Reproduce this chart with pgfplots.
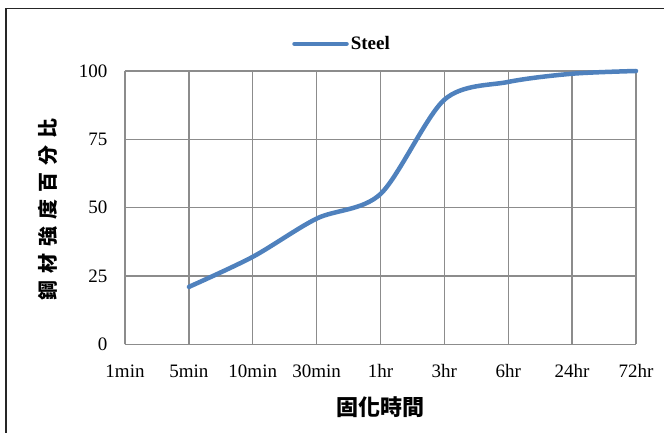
\documentclass[border=0pt]{standalone}
\usepackage{pgfplots}
\pgfplotsset{compat=1.18}
\usepackage{fontspec}
\setmainfont{Liberation Serif}
\newfontfamily\cjk{Noto Sans CJK TC}
\definecolor{steelblue}{HTML}{4F81BD}
\definecolor{gridgray}{HTML}{8C8C8C}
\begin{document}
\begin{tikzpicture}[x=1pt,y=1pt]
\path[use as bounding box] (0,0) rectangle (664,433);
\draw[line width=1.6pt, black!85] (6,0) -- (6,424.5) -- (664,424.5);
\begin{axis}[
  at={(125pt,88.7pt)}, anchor=south west,
  scale only axis, width=511pt, height=273.3pt,
  xmin=0, xmax=8, ymin=0, ymax=100,
  xtick={0,1,2,3,4,5,6,7,8},
  xticklabels={1min,5min,10min,30min,1hr,3hr,6hr,24hr,72hr},
  ytick={0,25,50,75,100},
  /pgf/number format/assume math mode=true,
  tick label style={font=\fontsize{19}{22}\selectfont},
  xticklabel style={anchor=base, yshift=-33pt},
  yticklabel style={anchor=east, xshift=-14pt},
  major tick length=0pt,
  grid=major,
  major grid style={gridgray, line width=1.3pt},
  axis line style={gridgray, line width=1.3pt},
  axis x line*=bottom, axis y line*=left,
  xlabel={\cjk\bfseries\fontsize{22}{24}\selectfont 固化時間},
  xlabel style={at={(axis description cs:0.5,0)}, anchor=center, yshift=-62.5pt},
  ylabel={\cjk\bfseries\fontsize{20}{22}\selectfont 鋼\hspace{7pt}材\hspace{7pt}強\hspace{7pt}度\hspace{7pt}百\hspace{7pt}分\hspace{7pt}比},
  ylabel style={at={(axis description cs:-0.1507,0.495)}, anchor=center},
  legend style={draw=none, fill=none, at={(axis description cs:0.4247,1.099)}, anchor=center,
    font=\bfseries\fontsize{19}{22}\selectfont, inner sep=0pt, /tikz/every even column/.append style={column sep=2pt}},
  legend image code/.code={\draw[line width=4.5pt, line cap=round, steelblue] (0pt,0pt) -- (52pt,0pt);},
  clip=false,
]
\addplot[steelblue, line width=4.5pt, smooth, tension=0.5, line cap=round] coordinates {
  (1,21) (2,32) (3,46) (4,55) (5,89.5) (6,96) (7,99) (8,100)
};
\addlegendentry{Steel}
\end{axis}
\end{tikzpicture}
\end{document}
